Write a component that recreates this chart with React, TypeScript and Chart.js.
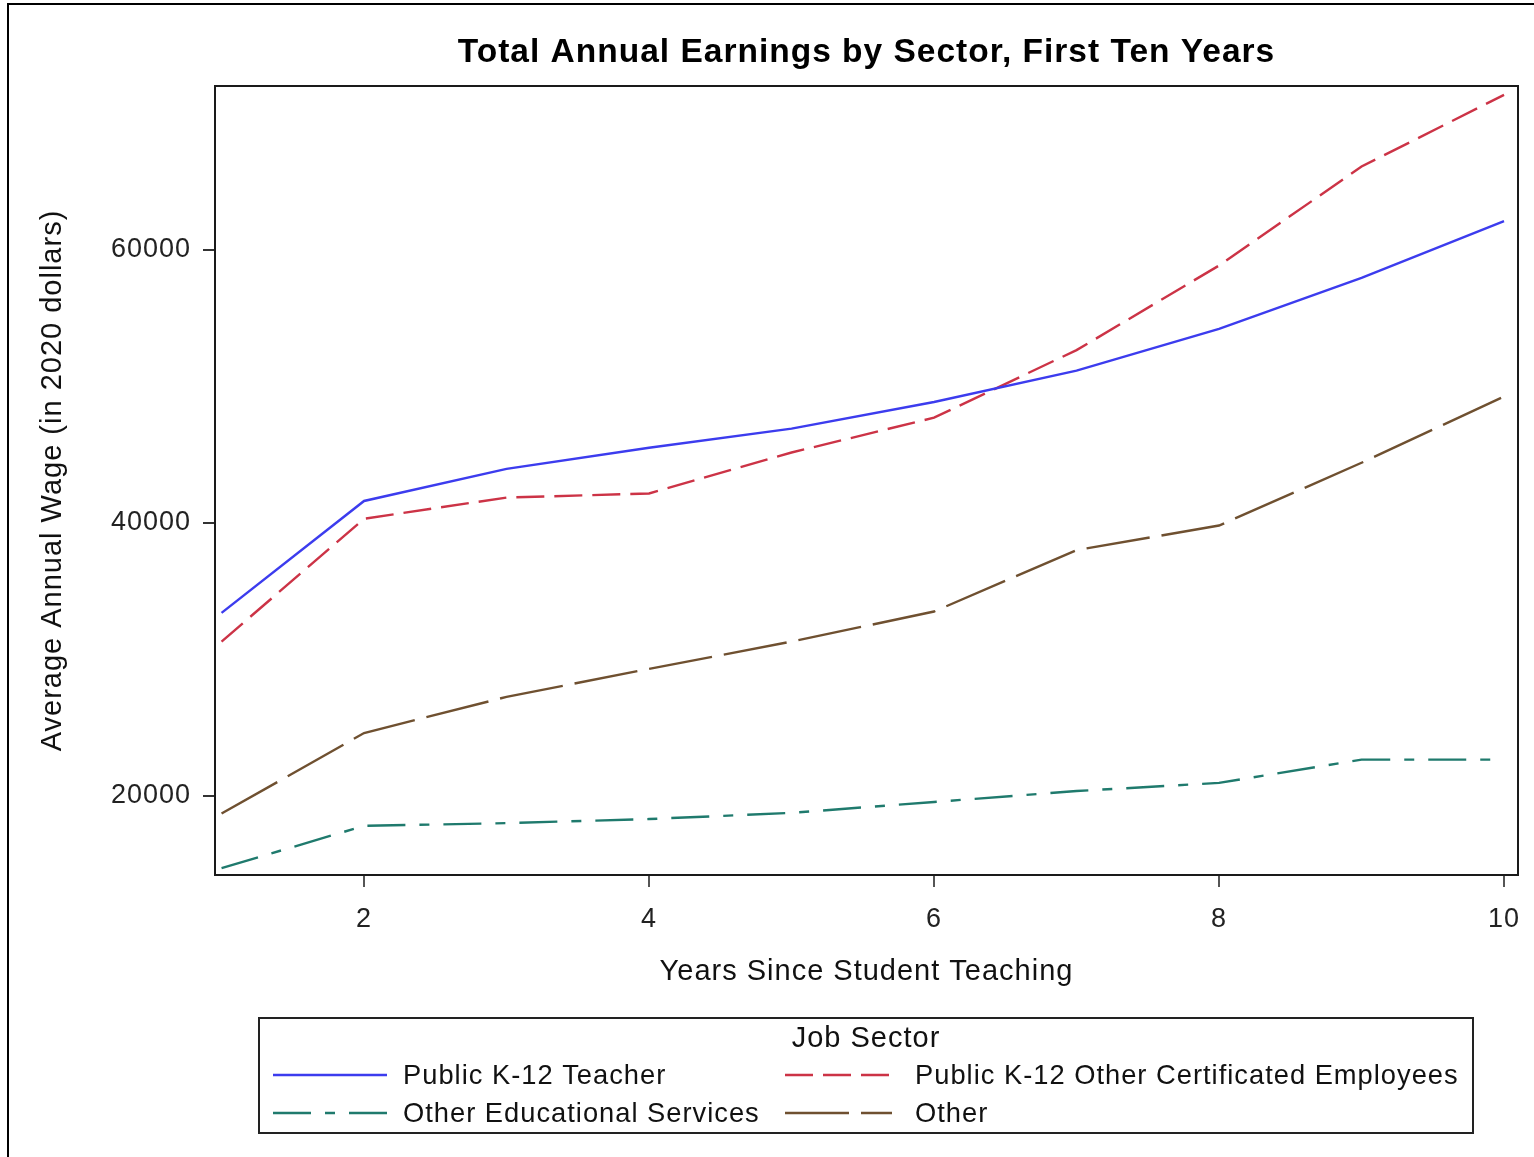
import React, { useEffect, useRef } from 'react';
import { Chart, registerables } from 'chart.js';

Chart.register(...registerables);

// ---- data ----
const years = [1, 2, 3, 4, 5, 6, 7, 8, 9, 10];
const teacher = [33400, 41600, 43950, 45500, 46900, 48850, 51150, 54200, 57950, 62100];
const otherCertificated = [31300, 40300, 41850, 42150, 45150, 47700, 52650, 58850, 66100, 71350];
const otherEducational = [14700, 17800, 18000, 18300, 18750, 19550, 20350, 20950, 22650, 22650];
const otherSector = [18700, 24600, 27250, 29300, 31300, 33500, 38000, 39800, 44400, 49250];

const seriesNames = [
  'Public K-12 Teacher',
  'Public K-12 Other Certificated Employees',
  'Other Educational Services',
  'Other',
];
const xTickValues = [2, 4, 6, 8, 10];
const yTickValues = [20000, 40000, 60000];

const chartTitle = 'Total Annual Earnings by Sector, First Ten Years';
const xTitle = 'Years Since Student Teaching';
const yTitle = 'Average Annual Wage (in 2020 dollars)';
const legendTitle = 'Job Sector';

const FONT = "'Liberation Sans', Arial, sans-serif";

const toPoints = (vals: number[]) => years.map((x, i) => ({ x, y: vals[i] }));

const customPlugin = {
  id: 'sasLook',
  beforeUpdate(chart: any) {
    chart.ctx.letterSpacing = '1px';
  },
  beforeDraw(chart: any) {
    const ctx = chart.ctx;
    ctx.letterSpacing = '1px';
    ctx.save();
    ctx.fillStyle = '#ffffff';
    ctx.fillRect(0, 0, chart.width, chart.height);
    // page frame
    ctx.strokeStyle = '#000';
    ctx.lineWidth = 2;
    ctx.beginPath();
    ctx.moveTo(8, chart.height);
    ctx.lineTo(8, 4);
    ctx.lineTo(chart.width, 4);
    ctx.stroke();
    ctx.restore();
  },
  afterDraw(chart: any) {
    const ctx = chart.ctx;
    const a = chart.chartArea;
    ctx.save();
    // plot frame
    ctx.strokeStyle = '#1a1a1a';
    ctx.lineWidth = 2;
    ctx.strokeRect(a.left, a.top, a.right - a.left, a.bottom - a.top);

    // legend
    ctx.strokeStyle = '#222';
    ctx.lineWidth = 2;
    ctx.strokeRect(259, 1018, 1214, 115);
    ctx.fillStyle = '#111';
    ctx.textBaseline = 'middle';
    ctx.textAlign = 'center';
    ctx.font = `29px ${FONT}`;
    ctx.fillText(legendTitle, 866, 1039);
    const colX = [273, 785];
    const sampleLen = [114, 107];
    const textX = [403, 915];
    const rowY = [1075, 1113];
    chart.data.datasets.forEach((ds: any, i: number) => {
      const c = i % 2;
      const r = Math.floor(i / 2);
      ctx.beginPath();
      ctx.setLineDash(ds.borderDash || []);
      ctx.lineDashOffset = 0;
      ctx.strokeStyle = ds.borderColor;
      ctx.lineWidth = ds.borderWidth;
      ctx.moveTo(colX[c], rowY[r]);
      ctx.lineTo(colX[c] + sampleLen[c], rowY[r]);
      ctx.stroke();
      ctx.setLineDash([]);
      ctx.fillStyle = '#111';
      ctx.textAlign = 'left';
      ctx.font = `27.3px ${FONT}`;
      ctx.fillText(ds.label, textX[c], rowY[r] + 1.5);
    });
    ctx.restore();
  },
};

export default function App() {
  const ref = useRef<HTMLCanvasElement | null>(null);

  useEffect(() => {
    if (!ref.current) return;
    const chart = new Chart(ref.current, {
      type: 'line',
      data: {
        datasets: [
          {
            label: seriesNames[0],
            data: toPoints(teacher),
            borderColor: '#3c3cee',
            borderWidth: 2.4,
            borderDash: [],
          },
          {
            label: seriesNames[1],
            data: toPoints(otherCertificated),
            borderColor: '#cc3346',
            borderWidth: 2.4,
            borderDash: [28, 10],
          },
          {
            label: seriesNames[2],
            data: toPoints(otherEducational),
            borderColor: '#1f7a6d',
            borderWidth: 2.4,
            borderDash: [38, 14, 10, 14],
          },
          {
            label: seriesNames[3],
            data: toPoints(otherSector),
            borderColor: '#6f5030',
            borderWidth: 2.4,
            borderDash: [64, 12],
          },
        ] as any,
      },
      options: {
        responsive: false,
        animation: false,
        devicePixelRatio: 1,
        layout: { padding: { left: 0, top: 0, right: 16, bottom: 157 } },
        elements: {
          point: { radius: 0, hoverRadius: 0 },
          line: { tension: 0, fill: false },
        },
        plugins: {
          legend: { display: false },
          tooltip: { enabled: false },
          title: {
            display: true,
            text: chartTitle,
            fullSize: false,
            color: '#000',
            font: { family: FONT, size: 33.5, weight: 'bold', lineHeight: 1.2 },
            padding: { top: 33, bottom: 12.8 },
          },
        },
        scales: {
          x: {
            type: 'linear',
            min: 0.954,
            max: 10.098,
            afterFit: (s: any) => {
              s.height = 125;
              s.paddingLeft = 0;
              s.paddingRight = 0;
            },
            afterBuildTicks: (s: any) => {
              s.ticks = xTickValues.map((v) => ({ value: v }));
            },
            ticks: {
              color: '#222',
              font: { family: FONT, size: 27, lineHeight: 1.2 },
              padding: 16,
              maxRotation: 0,
              autoSkip: false,
              callback: (v: any) => String(v),
            },
            grid: {
              display: true,
              drawOnChartArea: false,
              drawTicks: true,
              tickLength: 12,
              color: '#555',
              lineWidth: 2,
            },
            border: { display: false },
            title: {
              display: true,
              text: xTitle,
              color: '#111',
              font: { family: FONT, size: 29, lineHeight: 1.2 },
              padding: { top: 0, bottom: 10.6 },
            },
          },
          y: {
            type: 'linear',
            min: 14200,
            max: 72000,
            afterFit: (s: any) => {
              s.width = 215;
              s.paddingTop = 0;
              s.paddingBottom = 0;
            },
            afterBuildTicks: (s: any) => {
              s.ticks = yTickValues.map((v) => ({ value: v }));
            },
            ticks: {
              color: '#222',
              font: { family: FONT, size: 27, lineHeight: 1.2 },
              padding: 12,
              autoSkip: false,
              callback: (v: any) => String(v),
            },
            grid: {
              display: true,
              drawOnChartArea: false,
              drawTicks: true,
              tickLength: 12,
              color: '#333',
              lineWidth: 2,
            },
            border: { display: false },
            title: {
              display: true,
              text: yTitle,
              color: '#111',
              font: { family: FONT, size: 29, lineHeight: 1.2 },
              padding: { top: 36, bottom: 0 },
            },
          },
        },
      } as any,
      plugins: [customPlugin as any],
    });
    return () => chart.destroy();
  }, []);

  return (
    <div style={{ position: 'absolute', left: 0, top: 0, width: 1534, height: 1157, background: '#fff' }}>
      <canvas ref={ref} width={1534} height={1157} style={{ display: 'block', width: 1534, height: 1157 }} />
    </div>
  );
}
